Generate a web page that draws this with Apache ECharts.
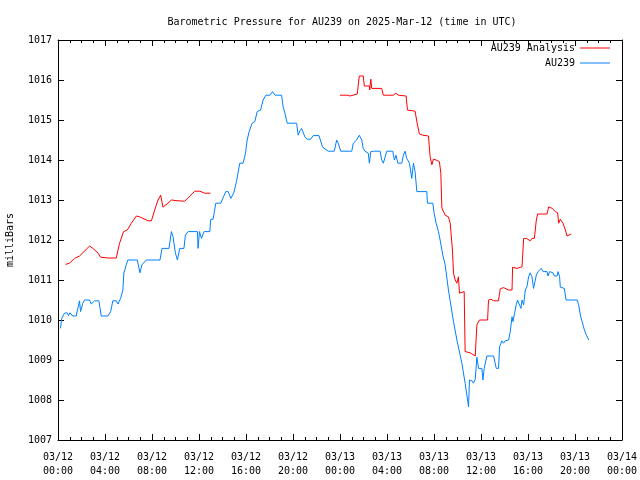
<!DOCTYPE html>
<html>
<head>
<meta charset="utf-8">
<script src="https://cdn.jsdelivr.net/npm/echarts@6/dist/echarts.min.js"></script>
<style>html,body{margin:0;padding:0;background:#fff}#c{width:640px;height:480px}</style>
</head>
<body>
<div id="c"></div>
<script>
// Hours since 03/12 00:00 UTC
const titleText = 'Barometric Pressure for AU239 on 2025-Mar-12 (time in UTC)';
const yAxisName = 'milliBars';
const seriesNames = ['AU239 Analysis', 'AU239'];
const xTickLabels = ['03/12\n00:00','03/12\n04:00','03/12\n08:00','03/12\n12:00','03/12\n16:00','03/12\n20:00',
                     '03/13\n00:00','03/13\n04:00','03/13\n08:00','03/13\n12:00','03/13\n16:00','03/13\n20:00','03/14\n00:00'];

const analysisHours = [0.64,0.98,1.41,1.83,2.11,2.69,2.97,3.39,3.62,4.25,4.96,5.24,5.58,5.90,6.24,6.67,6.95,7.66,7.95,8.23,8.51,8.74,8.85,8.93,9.36,9.65,10.21,10.78,11.64,12.06,12.49,12.98,
  18.0,
  24.0,24.62,24.71,24.85,25.0,25.47,25.56,25.64,25.98,26.07,26.50,26.53,26.62,26.70,27.55,27.69,28.54,28.75,28.97,29.11,29.63,29.74,30.39,30.59,30.76,31.05,31.53,31.67,31.82,31.95,32.18,32.46,32.58,32.67,32.95,33.23,33.38,33.57,33.66,33.80,33.95,34.08,34.17,34.57,34.65,35.08,35.23,35.51,35.65,35.87,36.56,36.64,36.85,37.07,37.49,37.64,37.92,38.35,38.64,38.69,39.06,39.20,39.49,39.63,39.86,40.20,40.34,40.54,40.71,40.82,41.62,41.76,42.05,42.33,42.52,42.61,42.75,42.98,43.18,43.32,43.46,43.67];
const analysisValues = [1011.39,1011.42,1011.54,1011.60,1011.68,1011.85,1011.79,1011.68,1011.57,1011.55,1011.55,1011.92,1012.21,1012.25,1012.42,1012.60,1012.58,1012.48,1012.48,1012.75,1013.00,1013.12,1013.12,1012.82,1012.92,1013.00,1012.98,1012.97,1013.22,1013.22,1013.17,1013.17,
  '-',
  1015.62,1015.62,1015.65,1015.60,1015.65,1015.65,1015.60,1016.10,1016.10,1015.85,1015.85,1015.75,1016.02,1015.79,1015.79,1015.62,1015.62,1015.67,1015.62,1015.60,1015.60,1015.25,1015.22,1014.88,1014.65,1014.62,1014.60,1014.08,1013.88,1014.02,1014.00,1013.96,1013.67,1012.80,1012.62,1012.58,1012.42,1011.75,1011.17,1011.00,1010.92,1011.08,1010.67,1010.71,1009.21,1009.18,1009.15,1009.10,1009.88,1010.00,1010.00,1010.50,1010.52,1010.48,1010.48,1010.78,1010.81,1010.75,1010.75,1011.32,1011.29,1011.33,1011.33,1012.04,1012.04,1011.98,1012.04,1012.04,1012.50,1012.65,1012.65,1012.83,1012.79,1012.71,1012.68,1012.42,1012.52,1012.42,1012.25,1012.10,1012.08,1012.15];

const stationHours = [0.21,0.32,0.55,0.78,0.90,1.01,1.26,1.55,1.69,1.83,1.92,2.11,2.26,2.69,2.83,3.11,3.48,3.68,4.25,4.48,4.67,4.96,5.10,5.33,5.52,5.61,5.81,5.95,6.75,6.97,7.14,7.52,8.68,8.85,9.45,9.65,9.79,9.99,10.16,10.36,10.72,10.84,11.07,11.87,11.92,12.04,12.21,12.43,12.92,13.00,13.20,13.43,13.85,14.28,14.48,14.71,14.96,15.19,15.47,15.75,15.96,16.10,16.27,16.52,16.75,16.95,17.24,17.46,17.69,18.03,18.26,18.46,19.03,19.16,19.31,19.51,20.31,20.44,20.59,20.73,21.01,21.21,21.50,21.72,22.21,22.52,23.00,23.51,23.72,23.85,24.06,25.00,25.13,25.42,25.64,25.85,25.98,26.13,26.41,26.50,26.62,26.84,27.41,27.55,27.69,27.83,27.98,28.49,28.63,28.77,28.92,29.26,29.39,29.54,29.68,29.91,30.11,30.25,30.39,30.54,31.39,31.44,31.90,32.01,32.18,32.38,32.52,32.75,32.95,33.23,33.66,33.95,34.37,34.65,34.94,35.02,35.23,35.36,35.51,35.65,35.79,36.08,36.16,36.27,36.50,37.07,37.30,37.49,37.58,37.78,37.92,38.06,38.35,38.49,38.64,38.72,38.86,39.00,39.11,39.28,39.40,39.49,39.63,39.77,39.91,40.05,40.19,40.34,40.47,40.56,40.71,40.85,41.13,41.28,41.62,41.70,41.84,42.13,42.24,42.47,42.56,42.69,42.75,42.90,43.09,43.24,44.18,44.31,44.46,44.60,44.80,44.97,45.17];
const stationValues = [1009.79,1010.04,1010.17,1010.18,1010.11,1010.18,1010.10,1010.10,1010.29,1010.48,1010.21,1010.42,1010.50,1010.50,1010.40,1010.48,1010.48,1010.10,1010.10,1010.21,1010.48,1010.48,1010.40,1010.54,1010.75,1011.18,1011.38,1011.50,1011.50,1011.18,1011.38,1011.50,1011.50,1011.79,1011.79,1012.21,1012.08,1011.68,1011.50,1011.79,1011.79,1012.12,1012.21,1012.21,1011.79,1012.21,1012.04,1012.21,1012.21,1012.52,1012.52,1012.92,1012.92,1013.21,1013.21,1013.04,1013.18,1013.46,1013.92,1013.92,1014.17,1014.50,1014.71,1014.92,1014.96,1015.21,1015.25,1015.50,1015.62,1015.62,1015.71,1015.62,1015.62,1015.33,1015.17,1014.92,1014.92,1014.62,1014.73,1014.79,1014.58,1014.52,1014.52,1014.61,1014.61,1014.32,1014.22,1014.22,1014.50,1014.42,1014.22,1014.22,1014.42,1014.50,1014.62,1014.50,1014.29,1014.22,1014.17,1013.92,1014.21,1014.22,1014.22,1014.00,1013.92,1013.92,1014.22,1014.22,1014.00,1014.12,1013.92,1013.92,1014.12,1014.22,1014.04,1013.92,1013.54,1013.92,1013.71,1013.21,1013.21,1012.92,1012.92,1012.67,1012.42,1012.21,1012.00,1011.62,1011.38,1010.75,1009.96,1009.50,1008.92,1008.42,1007.83,1008.50,1008.48,1008.42,1008.52,1009.07,1008.79,1008.79,1008.50,1008.79,1009.10,1009.10,1008.79,1008.79,1009.33,1009.48,1009.42,1009.48,1009.50,1009.71,1010.08,1009.96,1010.17,1010.38,1010.50,1010.50,1010.29,1010.50,1010.38,1010.75,1010.83,1011.08,1011.18,1011.08,1010.79,1010.83,1011.12,1011.21,1011.29,1011.21,1011.21,1011.10,1011.21,1011.18,1011.10,1011.10,1011.21,1011.08,1010.82,1010.79,1010.79,1010.50,1010.50,1010.38,1010.12,1009.96,1009.75,1009.62,1009.50];

const zip = (xs, ys) => xs.map((x, i) => [x, ys[i]]);
const FONT = 'DejaVu Sans Mono';
const LINE_ICON = 'path://M0,0H30V1H0Z';

const chart = echarts.init(document.getElementById('c'), null, {renderer: 'canvas'});
const tickCommon = {
  axisLine: {show: true, onZero: false, lineStyle: {color: '#000', width: 1}},
  axisTick: {show: true, inside: true, length: 6, lineStyle: {color: '#000'}},
  splitLine: {show: false}
};
chart.setOption({
  animation: false,
  backgroundColor: '#fff',
  title: {
    text: titleText, left: 337, top: 12, textAlign: 'center',
    textStyle: {fontFamily: FONT, fontSize: 10, fontWeight: 'normal', color: '#000'}
  },
  legend: {
    orient: 'vertical', right: 30, top: 43, align: 'right', padding: 0,
    itemWidth: 30, itemHeight: 10, itemGap: 5,
    textStyle: {fontFamily: FONT, fontSize: 10, color: '#000'},
    data: [{name: seriesNames[0], icon: LINE_ICON}, {name: seriesNames[1], icon: LINE_ICON}]
  },
  grid: {left: 58, right: 18, top: 40, bottom: 40, containLabel: false, outerBoundsMode: 'none'},
  xAxis: [{
    type: 'value', min: 0, max: 48, interval: 4, position: 'bottom',
    ...tickCommon,
    minorTick: {show: true, splitNumber: 4, length: 3, lineStyle: {color: '#000'}},
    axisLabel: {fontFamily: FONT, fontSize: 10, color: '#000', margin: 10, lineHeight: 14,
      formatter: v => xTickLabels[Math.round(v / 4)] || ''}
  }, {
    type: 'value', min: 0, max: 48, interval: 4, position: 'top',
    ...tickCommon,
    minorTick: {show: true, splitNumber: 4, length: 3, lineStyle: {color: '#000'}},
    axisLabel: {show: false}
  }],
  yAxis: [{
    type: 'value', min: 1007, max: 1017, interval: 1, position: 'left',
    ...tickCommon,
    name: yAxisName, nameLocation: 'middle', nameGap: 43, nameRotate: 90,
    nameTextStyle: {fontFamily: FONT, fontSize: 10, color: '#000'},
    axisLabel: {fontFamily: FONT, fontSize: 10, color: '#000', margin: 6, formatter: v => String(v)}
  }, {
    type: 'value', min: 1007, max: 1017, interval: 1, position: 'right',
    ...tickCommon,
    axisLabel: {show: false}
  }],
  series: [{
    name: seriesNames[0], type: 'line', symbol: 'none', connectNulls: false,
    lineStyle: {color: '#ff0000', width: 1}, itemStyle: {color: '#ff0000'},
    data: zip(analysisHours, analysisValues)
  }, {
    name: seriesNames[1], type: 'line', symbol: 'none',
    lineStyle: {color: '#0080ff', width: 1}, itemStyle: {color: '#0080ff'},
    data: zip(stationHours, stationValues)
  }]
});
</script>
</body>
</html>
